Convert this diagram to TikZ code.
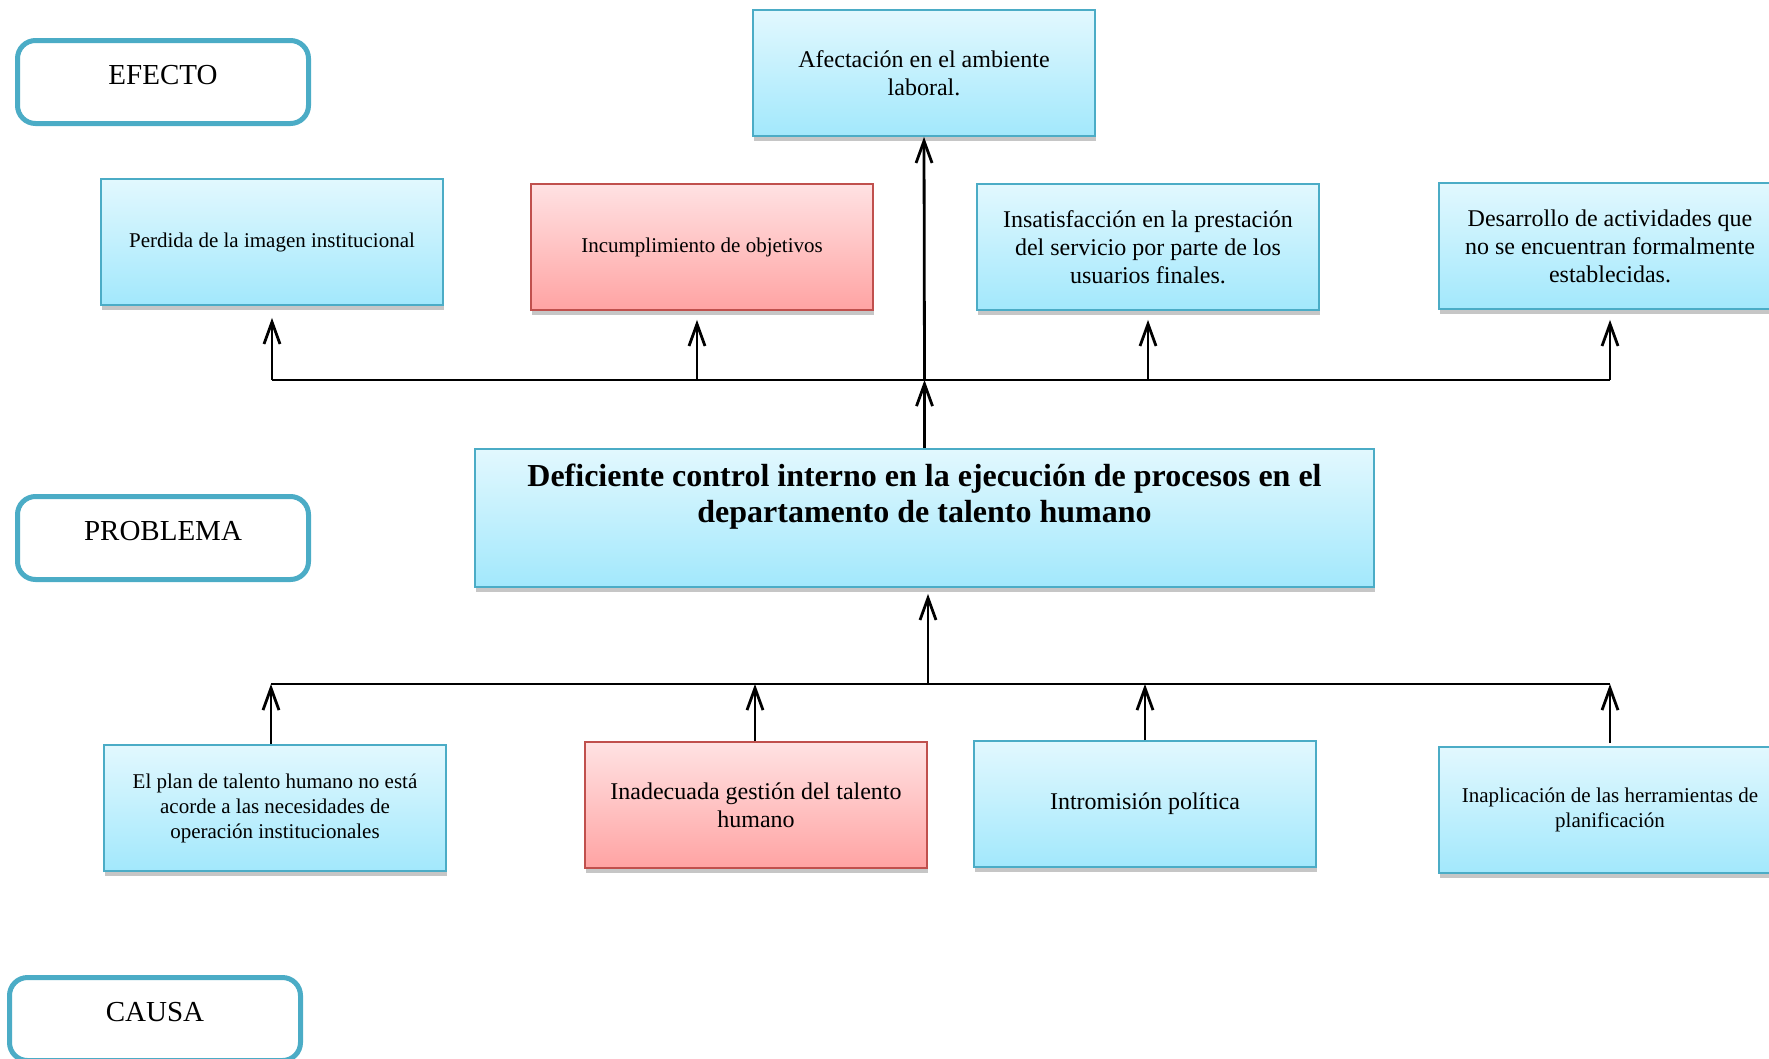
\documentclass[tikz,border=0pt]{standalone}
\usepackage{fontspec}
\setmainfont{Liberation Serif}
\usetikzlibrary{arrows.meta,shadows,calc}
\definecolor{bbord}{HTML}{4BACC6}
\definecolor{btop}{HTML}{E2F8FE}
\definecolor{bbot}{HTML}{A2E8FC}
\definecolor{rbord}{HTML}{C0504D}
\definecolor{rtop}{HTML}{FFE2E3}
\definecolor{rbot}{HTML}{FFA3A3}
\newcommand\mysizebig{\fontsize{24}{28}\selectfont}
\newcommand\mysizesmall{\fontsize{21}{25}\selectfont}
\newcommand\mysizeprob{\bfseries\fontsize{32}{36}\selectfont}
\newcommand\mysizelab{\fontsize{29}{34}\selectfont}
\tikzset{
  box/.style={draw=bbord, line width=1.8pt, top color=btop, bottom color=bbot,
    minimum width=342pt, minimum height=126pt, align=center, inner sep=4pt,
    drop shadow={shadow xshift=1pt, shadow yshift=-5pt, opacity=0.45}},
  redbox/.style={box, draw=rbord, top color=rtop, bottom color=rbot},
  lab/.style={draw=bbord, line width=5pt, rounded corners=18pt, fill=white,
    minimum width=291pt, minimum height=83pt, font=\mysizelab,
    text height=20pt, text depth=16pt},
  ln/.style={line width=2.8pt, black},
  arr/.style={ln, -{Straight Barb[length=22pt,width=16pt]}}
}
\begin{document}
\begin{tikzpicture}[x=1pt,y=-1pt]
\useasboundingbox (0,0) rectangle (1769,1058);

% labels
\node[lab] (efecto) at (163,82) {EFECTO};
\node[lab] (problema) at (163,538) {PROBLEMA};
\node[lab] (causa) at (155,1019) {CAUSA};

% effects
\node[box, font=\mysizebig] (afect) at (924,73) {Afectación en el ambiente\\laboral.};
\node[box, font=\mysizesmall] (perd) at (272,242) {Perdida de la imagen institucional};
\node[redbox, font=\mysizesmall] (incum) at (702,247) {Incumplimiento de objetivos};
\node[box, font=\mysizebig] (insat) at (1148,247) {Insatisfacción en la prestación\\del servicio por parte de los\\usuarios finales.};
\node[box, font=\mysizebig] (desar) at (1610,246) {Desarrollo de actividades que\\no se encuentran formalmente\\establecidas.};

% problem
\node[box, font=\mysizeprob, minimum width=899pt, minimum height=138pt, text depth=50pt] (prob) at (924.5,518)
  {Deficiente control interno en la ejecución de procesos en el\\departamento de talento humano};

% causes
\node[box, font=\mysizesmall] (plan) at (275,808) {El plan de talento humano no está\\acorde a las necesidades de\\operación institucionales};
\node[redbox, font=\mysizebig] (inad) at (756,805) {Inadecuada gestión del talento\\humano};
\node[box, font=\mysizebig] (intro) at (1145,804) {Intromisión política};
\node[box, font=\mysizesmall] (inapl) at (1610,810) {Inaplicación de las herramientas de\\planificación};

% upper connectors
\coordinate (tj) at (924.5,380);
\coordinate (t1) at (272,380);
\coordinate (t2) at (697,380);
\coordinate (t3) at (1148,380);
\coordinate (t4) at (1610,380);
\draw[ln] (t1) -- (t4);
\draw[arr] (prob.north) -- (tj);
\draw[arr] (tj) -- (afect.south);
\draw[arr, shorten >=12pt] (t1) -- (t1 |- perd.south);
\draw[arr, shorten >=9pt] (t2) -- (t2 |- incum.south);
\draw[arr, shorten >=9pt] (t3) -- (t3 |- insat.south);
\draw[arr, shorten >=10pt] (t4) -- (t4 |- desar.south);

% lower connectors
\coordinate (bj) at (928,684);
\coordinate (b1) at (271,684);
\coordinate (b2) at (755,684);
\coordinate (b3) at (1145,684);
\coordinate (b4) at (1610,684);
\draw[ln] (b1) -- (b4);
\draw[arr, shorten >=6pt] (bj) -- (bj |- prob.south);
\draw[arr] (b1 |- plan.north) -- (b1);
\draw[arr] (b2 |- inad.north) -- (b2);
\draw[arr] (b3 |- intro.north) -- (b3);
\draw[arr] ([yshift=3pt]b4 |- inapl.north) -- (b4);
\end{tikzpicture}
\end{document}
